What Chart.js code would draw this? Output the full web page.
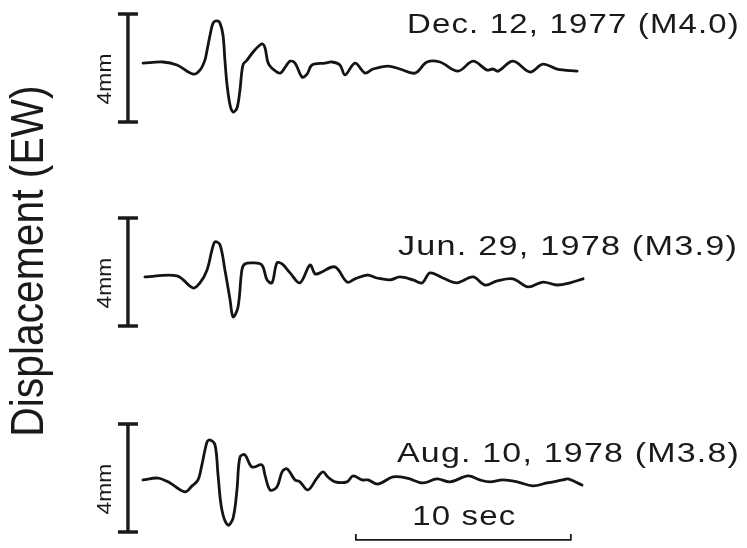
<!DOCTYPE html>
<html>
<head>
<meta charset="utf-8">
<script src="https://cdn.jsdelivr.net/npm/chart.js@4/dist/chart.umd.min.js"></script>
<style>
  html, body { margin: 0; padding: 0; background: #ffffff; }
  #wrap { position: relative; width: 747px; height: 548px; }
</style>
</head>
<body>
<div id="wrap"><canvas id="c" width="747" height="548"></canvas></div>
<script>
// ---- Data (time in s, displacement in mm relative to each trace's baseline) ----
const eventLabels = ["Dec. 12, 1977 (M4.0)", "Jun. 29, 1978 (M3.9)", "Aug. 10, 1978 (M3.8)"];
const axisTitle = "Displacement (EW)";
const ampScaleLabel = "4mm";
const ampScaleMM = 4;
const timeScaleLabel = "10 sec";
const timeScaleSec = 10;

const timeDec = [0, 0.93, 1.58, 2.33, 2.65, 2.88, 2.98, 3.12, 3.26, 3.44, 3.58, 3.72, 3.81, 3.91, 4.05, 4.19, 4.37, 4.51, 4.65, 4.84, 5.12, 5.44, 5.58, 5.68, 5.82, 6.00, 6.37, 6.65, 6.84, 7.07, 7.40, 7.63, 7.86, 8.47, 8.79, 9.16, 9.40, 9.86, 10.33, 10.70, 11.40, 11.95, 12.65, 13.21, 13.81, 14.65, 15.35, 16.00, 16.28, 16.51, 17.21, 18.00, 18.60, 19.26, 20.19];
const dispDec = [0, 0.04, -0.07, -0.41, -0.26, 0.11, 0.48, 1.04, 1.48, 1.56, 1.48, 1.04, 0.11, -0.81, -1.56, -1.81, -1.67, -1.00, -0.07, 0.11, 0.41, 0.67, 0.70, 0.55, 0.00, -0.19, -0.37, -0.11, 0.07, 0, -0.52, -0.41, -0.07, 0, 0.04, -0.07, -0.44, 0, -0.37, -0.22, -0.11, -0.22, -0.37, 0.04, 0.04, -0.30, 0.07, -0.26, -0.22, -0.30, 0.07, -0.33, -0.04, -0.22, -0.30];

const timeJun = [0.09, 1.58, 2.33, 2.65, 2.98, 3.21, 3.35, 3.58, 3.81, 4.05, 4.19, 4.42, 4.60, 4.74, 5.12, 5.53, 5.77, 6.00, 6.23, 6.47, 6.84, 7.30, 7.77, 8.00, 8.23, 8.93, 9.49, 9.86, 10.42, 10.88, 11.49, 11.95, 12.56, 12.98, 13.35, 13.95, 14.60, 15.35, 15.91, 16.47, 17.21, 17.91, 18.60, 19.26, 19.86, 20.47];
const dispJun = [0, 0.04, -0.41, -0.22, 0.26, 1.00, 1.30, 1.19, 0.26, -0.85, -1.48, -1.11, 0.26, 0.48, 0.52, 0.44, -0.11, -0.22, 0.52, 0.48, 0.15, -0.22, 0.44, 0.11, 0.15, 0.37, -0.19, -0.07, 0.07, -0.04, -0.11, 0, -0.11, -0.22, 0.15, -0.04, -0.22, 0, -0.30, -0.15, -0.07, -0.37, -0.19, -0.30, -0.22, -0.07];

const timeAug = [0, 0.70, 1.26, 1.95, 2.28, 2.56, 2.74, 2.98, 3.12, 3.35, 3.49, 3.67, 3.95, 4.19, 4.37, 4.51, 4.74, 5.07, 5.53, 5.67, 5.91, 6.23, 6.47, 6.70, 7.07, 7.30, 7.67, 8.09, 8.37, 8.60, 8.93, 9.49, 9.77, 10.19, 10.47, 10.93, 11.63, 12.28, 13.02, 13.67, 14.28, 15.12, 15.67, 16.14, 16.74, 17.40, 18.14, 18.79, 19.53, 19.77, 20.42];
const dispAug = [0, 0.07, -0.11, -0.44, -0.22, 0, 0.56, 1.41, 1.48, 1.30, 0.19, -1.11, -1.67, -1.41, -0.37, 0.85, 0.93, 0.48, 0.56, 0.19, -0.37, -0.26, 0.30, 0.41, 0, -0.07, -0.37, 0.07, 0.30, 0.11, -0.07, -0.07, 0.15, 0, 0, -0.15, 0.11, 0.07, -0.11, 0.04, -0.07, 0.15, 0, -0.07, 0, -0.07, -0.22, -0.11, 0, 0.04, -0.19];

// ---- Layout (positions/styles, kept separate from data) ----
const layout = {
  xMin: -6.651, xMax: 28.093,      // seconds
  yMin: 0, yMax: 20.296,           // mm
  baselines: [17.96, 10.04, 2.52], // vertical offset of each trace (mm)
  barBottoms: [15.78, 8.22, 0.59], // bottom of 4mm bar (mm)
  barTime: -0.70,                  // x position of amplitude bars (s)
  timeBarStart: 9.9,               // s
  timeBarY: 0.30,                  // mm
  labelX: [407, 398, 397],
  labelEnd: [740, 738, 740],
  labelY: [33, 255, 462],
  stretch: 1.18,
  spacing: '1px'
};

const traces = [[timeDec, dispDec], [timeJun, dispJun], [timeAug, dispAug]];
const datasets = traces.map(([t, d], i) => ({
  label: eventLabels[i],
  data: t.map((x, k) => ({ x: x, y: d[k] + layout.baselines[i] })),
  borderColor: '#141414',
  borderWidth: 2.8,
  pointRadius: 0,
  fill: false,
  tension: 0.35,
  borderCapStyle: 'round',
  borderJoinStyle: 'round'
}));

function stretchedText(ctx, text, x, y, font, sx, sy, rot, align, spacing) {
  ctx.save();
  ctx.translate(x, y);
  if (rot) ctx.rotate(rot);
  ctx.scale(sx, sy);
  ctx.font = font;
  if ('letterSpacing' in ctx) ctx.letterSpacing = spacing || '0px';
  ctx.textAlign = align || 'left';
  ctx.textBaseline = 'alphabetic';
  ctx.fillStyle = '#1a1a1a';
  ctx.fillText(text, 0, 0);
  ctx.restore();
}

function measureWidth(ctx, text, font, spacing) {
  ctx.save();
  ctx.font = font;
  if ('letterSpacing' in ctx) ctx.letterSpacing = spacing || '0px';
  const w = ctx.measureText(text).width;
  ctx.restore();
  return w;
}

const decor = {
  id: 'decor',
  afterDraw(chart) {
    const ctx = chart.ctx;
    const xs = chart.scales.x, ys = chart.scales.y;
    const S = layout.stretch;
    const labFont = '28px "Liberation Sans", Arial, sans-serif';
    ctx.save();
    ctx.strokeStyle = '#1a1a1a';
    ctx.lineCap = 'butt';
    // amplitude scale bars
    layout.barBottoms.forEach((b, i) => {
      const px = xs.getPixelForValue(layout.barTime);
      const y0 = ys.getPixelForValue(b);
      const y1 = ys.getPixelForValue(b + ampScaleMM);
      ctx.lineWidth = 3.4;
      ctx.beginPath();
      ctx.moveTo(px, y0); ctx.lineTo(px, y1);
      ctx.moveTo(px - 10, y0); ctx.lineTo(px + 10, y0);
      ctx.moveTo(px - 10, y1); ctx.lineTo(px + 10, y1);
      ctx.stroke();
      const cy = (y0 + y1) / 2 + 11;
      stretchedText(ctx, ampScaleLabel, px - 17, cy, '17px "Liberation Sans", Arial, sans-serif', 1.35, 1.2, -Math.PI / 2, 'center');
    });
    // time scale bar
    const tx0 = xs.getPixelForValue(layout.timeBarStart);
    const tx1 = xs.getPixelForValue(layout.timeBarStart + timeScaleSec);
    const ty = ys.getPixelForValue(layout.timeBarY);
    ctx.lineWidth = 1.8;
    ctx.beginPath();
    ctx.moveTo(tx0, ty - 6); ctx.lineTo(tx0, ty); ctx.lineTo(tx1, ty); ctx.lineTo(tx1, ty - 6);
    ctx.stroke();
    stretchedText(ctx, timeScaleLabel, (tx0 + tx1) / 2 + 1, ty - 15, labFont, S, 1, 0, 'center', layout.spacing);
    // event labels, fitted to their span
    eventLabels.forEach((lab, i) => {
      const w = measureWidth(ctx, lab, labFont, layout.spacing);
      const sx = (layout.labelEnd[i] - layout.labelX[i]) / w;
      stretchedText(ctx, lab, layout.labelX[i], layout.labelY[i], labFont, sx, 1, 0, 'left', layout.spacing);
    });
    // vertical title
    stretchedText(ctx, axisTitle, 43, 261, '40px "Liberation Sans", Arial, sans-serif', 1.02, 1.15, -Math.PI / 2, 'center');
    ctx.restore();
  }
};

new Chart(document.getElementById('c'), {
  type: 'line',
  data: { datasets },
  options: {
    responsive: false,
    animation: false,
    events: [],
    layout: { padding: 0 },
    plugins: { legend: { display: false }, tooltip: { enabled: false }, title: { display: false } },
    scales: {
      x: { type: 'linear', min: layout.xMin, max: layout.xMax, display: false },
      y: { type: 'linear', min: layout.yMin, max: layout.yMax, display: false }
    }
  },
  plugins: [decor]
});
</script>
</body>
</html>
